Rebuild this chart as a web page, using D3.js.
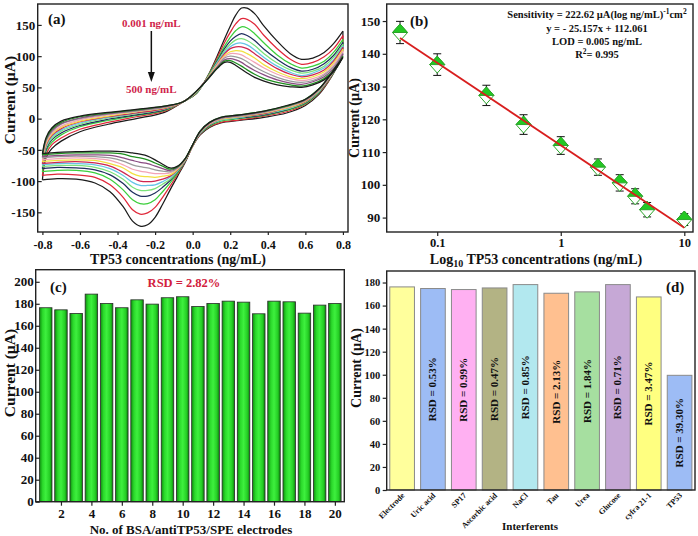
<!DOCTYPE html>
<html><head><meta charset="utf-8">
<script src="https://cdn.jsdelivr.net/npm/d3@7"></script>
<style>
html,body{margin:0;padding:0;background:#fff;}
svg{display:block;}
text{font-family:"Liberation Serif","Times New Roman",serif;font-weight:bold;fill:#111;}
</style></head><body>
<svg id="fig" width="698" height="536"></svg>
<script>
// ================= DATA =================
// (a) cyclic voltammograms
const cvPotFwd = [-0.8,-0.78,-0.75,-0.7,-0.6,-0.45,-0.3,-0.15,-0.05,0.02,0.08,0.13,0.17,0.2,0.23,0.26,0.29,0.33,0.38,0.45,0.52,0.58,0.64,0.7,0.75,0.8];
const cvPotRev = [0.8,0.79,0.76,0.72,0.67,0.6,0.5,0.38,0.25,0.15,0.09,0.04,0.0,-0.04,-0.08,-0.12,-0.16,-0.2,-0.24,-0.28,-0.32,-0.37,-0.44,-0.52,-0.62,-0.72,-0.8];
const cvColors = ["#1b1b1b","#e0283a","#3ccf3c","#1f2e5e","#7ae27a","#66c4e6","#cf2650","#f2e040","#f2a4b6","#9a9a9a","#8a4c82","#1f8f1f","#1b1b1b"];
const cvFwd = [
 [-98,-62,-48,-36,-21,-9,0,10,27,40,68,100,128,148,166,177,177,168,148,124,104,95,97,106,120,140],
 [-91,-57,-42,-31,-17,-6,3,12,27,41,67,97,122,138,152,160,159,151,133,112,95,87,90,99,112,133],
 [-85,-52,-38,-26,-13,-3,5,13,27,41,67,94,116,130,141,147,145,136,121,102,88,81,84,92,106,127],
 [-80,-49,-34,-23,-11,-1,6,14,27,42,66,92,112,124,132,136,133,125,111,95,82,76,79,88,101,122],
 [-77,-46,-32,-20,-9,1,8,15,27,42,66,90,109,119,126,128,125,117,104,89,78,73,76,84,98,119],
 [-74,-44,-29,-18,-7,2,9,16,27,42,65,89,106,115,120,121,118,110,98,84,74,69,73,81,94,116],
 [-72,-42,-27,-16,-5,3,9,16,27,43,65,87,104,112,115,115,112,104,93,80,71,67,70,78,92,114],
 [-69,-40,-25,-14,-4,4,11,17,27,43,65,86,101,107,109,108,104,97,86,75,67,64,67,75,89,111],
 [-66,-38,-23,-12,-2,6,12,18,27,43,64,85,99,104,104,102,97,90,81,71,64,61,64,72,86,108],
 [-63,-35,-21,-9,0,7,12,18,27,43,64,83,97,100,99,96,91,83,75,66,60,58,61,70,83,105],
 [-61,-34,-19,-8,1,8,13,19,27,44,64,82,94,96,94,90,84,77,70,62,57,55,59,67,80,103],
 [-58,-32,-17,-6,3,9,14,20,27,44,63,81,92,93,89,84,78,71,64,58,54,52,56,64,77,100],
 [-56,-30,-15,-4,4,10,15,20,27,44,63,80,90,90,85,79,73,66,60,54,51,50,54,62,75,98]
];
const cvRev = [
 [140,96,78,58,38,21,9,2,-3,-7,-14,-26,-44,-70,-92,-114,-137,-158,-170,-172,-164,-141,-117,-103,-97,-96,-98],
 [133,96,79,59,40,23,11,4,-2,-6,-13,-25,-44,-69,-89,-108,-126,-142,-151,-153,-146,-126,-106,-94,-90,-89,-91],
 [127,95,79,60,41,24,13,5,0,-4,-12,-24,-43,-68,-87,-103,-117,-130,-136,-136,-130,-114,-97,-87,-83,-83,-85],
 [122,95,80,61,42,25,14,6,1,-3,-11,-24,-43,-68,-85,-99,-110,-119,-124,-124,-118,-104,-90,-82,-79,-78,-80],
 [119,95,80,62,43,26,15,7,2,-3,-10,-23,-43,-67,-84,-97,-105,-112,-115,-115,-110,-97,-85,-78,-75,-75,-77],
 [116,95,80,62,43,27,16,8,2,-2,-9,-23,-43,-67,-83,-94,-101,-106,-107,-107,-102,-91,-80,-74,-72,-72,-74],
 [114,95,81,62,44,27,17,8,3,-1,-9,-22,-43,-66,-82,-92,-97,-100,-101,-100,-95,-86,-76,-71,-69,-70,-72],
 [111,95,81,63,44,28,17,9,3,-1,-8,-22,-43,-66,-81,-90,-92,-94,-93,-92,-88,-79,-72,-67,-66,-67,-69],
 [108,94,81,63,45,29,18,10,4,0,-8,-21,-42,-65,-80,-87,-88,-88,-86,-84,-81,-74,-67,-64,-63,-64,-66],
 [105,94,81,64,45,29,19,10,4,0,-7,-21,-42,-65,-79,-85,-84,-82,-79,-77,-74,-68,-63,-61,-60,-61,-63],
 [103,94,82,64,46,30,20,11,5,1,-7,-21,-42,-65,-78,-83,-80,-76,-72,-70,-67,-63,-59,-58,-58,-59,-61],
 [100,94,82,65,47,31,20,12,6,2,-6,-20,-42,-64,-77,-81,-76,-71,-66,-63,-61,-57,-55,-55,-55,-56,-58],
 [98,94,82,65,47,31,21,12,6,2,-6,-20,-42,-64,-76,-79,-73,-66,-60,-57,-55,-53,-52,-52,-53,-54,-56]
];
const aXTicks = [-0.8,-0.6,-0.4,-0.2,0.0,0.2,0.4,0.6,0.8];
const aXTickLabels = ["-0.8","-0.6","-0.4","-0.2","0.0","0.2","0.4","0.6","0.8"];
const aYTicks = [-150,-100,-50,0,50,100,150];
const aYTickLabels = ["-150","-100","-50","0","50","100","150"];

// (b) calibration
const bConc = [0.05,0.1,0.25,0.5,1,2,3,4,5,10];
const bCurrent = [146.5,136.7,127.3,118.4,112.0,105.4,100.6,96.5,92.4,89.4];
const bError = [3.4,3.3,3.1,3.0,2.7,2.5,2.5,2.3,2.2,1.8];
const bFitConc = [0.05,10];
const bFitCurrent = [144.8,86.9];
const bXTicks = [0.1,1,10];
const bXTickLabels = ["0.1","1","10"];
const bYTicks = [90,100,110,120,130,140,150];

// (c) reproducibility
const cElectrodes = [1,2,3,4,5,6,7,8,9,10,11,12,13,14,15,16,17,18,19,20];
const cCurrent = [176.4,174.5,171.2,188.8,180.3,176.4,183.6,179.7,185.5,186.4,177.6,180.3,182.4,181.5,170.9,182.4,181.8,171.5,178.8,180.3];
const cXTicks = [2,4,6,8,10,12,14,16,18,20];
const cYTicks = [0,20,40,60,80,100,120,140,160,180,200];

// (d) interferents
const dNames = ["Electrode","Uric acid","SP17","Ascorbic acid","NaCl","Tau","Urea","Glucose","cyfra 21-1","TP53"];
const dCurrent = [176.2,174.8,173.9,175.3,178.2,170.7,171.9,178.2,167.5,99.5];
const dRSD = ["","RSD = 0.53%","RSD = 0.99%","RSD = 0.47%","RSD = 0.85%","RSD = 2.13%","RSD = 1.84%","RSD = 0.71%","RSD = 3.47%","RSD = 39.30%"];
const dColors = ["#ffff9c","#9dbcf5","#ffb0f2","#b3b384","#b2e8ef","#ffc090","#a6dfa0","#c6a8d6","#ffff80","#9dbcf5"];
const dYTicks = [0,20,40,60,80,100,120,140,160,180];

// ================= DRAW =================
const svg = d3.select("#fig");
svg.append("rect").attr("width",698).attr("height",536).attr("fill","#fff");
const defs = svg.append("defs");
const SERIF = '"Liberation Serif","Times New Roman",serif';

function styleAxis(g, fs){
  g.attr("font-size", fs).attr("font-family", SERIF);
  g.select(".domain").remove();
  g.selectAll(".tick line").attr("stroke","#222").attr("stroke-width",1.2);
  g.selectAll(".tick text").attr("fill","#111").style("font-weight","bold");
}
function frame(g, x0, x1, y0, y1){
  g.append("rect").attr("x",x0).attr("y",y0).attr("width",x1-x0).attr("height",y1-y0)
   .attr("fill","none").attr("stroke","#222").attr("stroke-width",1.4);
}
function label(g, x, y, txt, fs, opts={}){
  const t = g.append("text").attr("x",x).attr("y",y).attr("font-size",fs)
    .attr("text-anchor",opts.anchor||"middle").text(txt);
  if(opts.fill) t.style("fill",opts.fill);
  if(opts.rotate) t.attr("transform",`rotate(${opts.rotate},${x},${y})`);
  return t;
}

// ---------- Panel (a) ----------
{
  const L=37.7,R=348,T=4,B=232;
  const x = d3.scaleLinear().domain([-0.825,0.827]).range([L,R]);
  const y = d3.scaleLinear().domain([-181.5,183.5]).range([B,T]);
  const g = svg.append("g");
  defs.append("clipPath").attr("id","clipA").append("rect").attr("x",L).attr("y",T).attr("width",R-L).attr("height",B-T);
  const line = d3.line().x(d=>x(d[0])).y(d=>y(d[1])).curve(d3.curveCatmullRom.alpha(0.5));
  const cg = g.append("g").attr("clip-path","url(#clipA)");
  cvFwd.forEach((f,k)=>{
    const fp = cvPotFwd.map((e,i)=>[e,f[i]]);
    const rp = cvPotRev.map((e,i)=>[e,cvRev[k][i]]);
    cg.append("path").attr("d",line(fp)).attr("fill","none").attr("stroke",cvColors[k]).attr("stroke-width",1.25);
    cg.append("path").attr("d",line(rp)).attr("fill","none").attr("stroke",cvColors[k]).attr("stroke-width",1.25);
  });
  frame(g,L,R,T,B);
  const xa = g.append("g").attr("transform",`translate(0,${B})`)
    .call(d3.axisBottom(x).tickValues(aXTicks).tickSize(3).tickPadding(5).tickFormat((d,i)=>aXTickLabels[i]));
  styleAxis(xa,12);
  const ya = g.append("g").attr("transform",`translate(${L},0)`)
    .call(d3.axisLeft(y).tickValues(aYTicks).tickSizeInner(-4).tickSizeOuter(0).tickPadding(2.5).tickFormat((d,i)=>aYTickLabels[i]));
  styleAxis(ya,13);
  label(g,178,264,"TP53 concentrations (ng/mL)",14);
  label(g,15,100,"Current (µA)",15.5,{rotate:-90});
  label(g,48,24,"(a)",15,{anchor:"start"});
  label(g,x(-0.22),27,"0.001 ng/mL",11,{fill:"#cf1f4b"});
  label(g,x(-0.22),93,"500 ng/mL",11,{fill:"#cf1f4b"});
  g.append("line").attr("x1",x(-0.22)).attr("x2",x(-0.22)).attr("y1",31).attr("y2",74).attr("stroke","#111").attr("stroke-width",1.5);
  g.append("path").attr("d",`M${x(-0.22)-3.5},72 L${x(-0.22)+3.5},72 L${x(-0.22)},82 Z`).attr("fill","#111");
}

// ---------- Panel (b) ----------
{
  const L=386.7,R=693,T=4,B=232;
  const x = d3.scaleLog().domain([0.039,11.76]).range([L,R]);
  const y = d3.scaleLinear().domain([85.6,155.2]).range([B,T]);
  const g = svg.append("g");
  frame(g,L,R,T,B);
  const xa = g.append("g").attr("transform",`translate(0,${B})`)
    .call(d3.axisBottom(x).tickValues(bXTicks).tickSize(4).tickPadding(2).tickFormat((d,i)=>bXTickLabels[i]));
  styleAxis(xa,12.5);
  const ya = g.append("g").attr("transform",`translate(${L},0)`)
    .call(d3.axisLeft(y).tickValues(bYTicks).tickSize(4).tickPadding(2.5));
  styleAxis(ya,13);
  // error bars
  bConc.forEach((c,i)=>{
    const cx = x(c), y0=y(bCurrent[i]-bError[i]), y1=y(bCurrent[i]+bError[i]);
    g.append("line").attr("x1",cx).attr("x2",cx).attr("y1",y0).attr("y2",y1).attr("stroke","#111").attr("stroke-width",1);
    [y0,y1].forEach(yy=>g.append("line").attr("x1",cx-4).attr("x2",cx+4).attr("y1",yy).attr("y2",yy).attr("stroke","#111").attr("stroke-width",1));
  });
  // markers
  bConc.forEach((c,i)=>{
    const cx = x(c), cy = y(bCurrent[i]), w=7.5, h=8.5;
    g.append("path").attr("d",`M${cx},${cy-h} L${cx+w},${cy} L${cx},${cy+h} L${cx-w},${cy} Z`)
      .attr("fill","#fff").attr("stroke","#2aa52a").attr("stroke-width",1);
    g.append("path").attr("d",`M${cx-w},${cy} L${cx},${cy-h} L${cx+w},${cy} Z`)
      .attr("fill","#22c822").attr("stroke","#2aa52a").attr("stroke-width",1);
  });
  // fit line
  const fl = d3.line().x(d=>x(d[0])).y(d=>y(d[1]));
  g.append("path").attr("d",fl(bFitConc.map((c,i)=>[c,bFitCurrent[i]]))).attr("stroke","#d81e1e").attr("stroke-width",1.8).attr("fill","none");
  label(g,410,26,"(b)",15,{anchor:"start"});
  // legend text
  const cx=597;
  const t1 = g.append("text").attr("x",cx).attr("y",18).attr("font-size",10.5).attr("text-anchor","middle");
  t1.append("tspan").text("Sensitivity = 222.62 µA(log ng/mL)");
  t1.append("tspan").attr("dy",-4).attr("font-size",7.5).text("-1");
  t1.append("tspan").attr("dy",4).text("cm");
  t1.append("tspan").attr("dy",-4).attr("font-size",7.5).text("2");
  label(g,cx,31.5,"y = - 25.157x + 112.061",10.5);
  label(g,cx,45,"LOD = 0.005 ng/mL",10.5);
  const t4 = g.append("text").attr("x",cx).attr("y",58.3).attr("font-size",10.5).attr("text-anchor","middle");
  t4.append("tspan").text("R");
  t4.append("tspan").attr("dy",-4).attr("font-size",7.5).text("2");
  t4.append("tspan").attr("dy",4).text("= 0.995");
  // axis titles
  const tx = g.append("text").attr("x",536).attr("y",263.5).attr("font-size",14).attr("text-anchor","middle");
  tx.append("tspan").text("Log");
  tx.append("tspan").attr("dy",3.5).attr("font-size",10).text("10");
  tx.append("tspan").attr("dy",-3.5).text(" TP53 concentrations (ng/mL)");
  label(g,359,118,"Current (µA)",14,{rotate:-90});
}

// ---------- Panel (c) ----------
{
  const L=35.7,R=344.3,T=269.7,B=501.7;
  const x = d3.scaleLinear().domain([0.34,20.62]).range([L,R]);
  const y = d3.scaleLinear().domain([0,211]).range([B,T]);
  const g = svg.append("g");
  const gr = defs.append("linearGradient").attr("id","gGreen").attr("x1",0).attr("x2",1).attr("y1",0).attr("y2",0);
  [[0,"#0f8d0f"],[0.25,"#2bd92b"],[0.5,"#3ef03e"],[0.8,"#25cf25"],[1,"#0e800e"]].forEach(s=>gr.append("stop").attr("offset",s[0]).attr("stop-color",s[1]));
  const bw = (x(2)-x(1))*0.82;
  g.selectAll("rect.bar").data(cElectrodes).enter().append("rect")
    .attr("x",d=>x(d)-bw/2).attr("width",bw)
    .attr("y",(d,i)=>y(cCurrent[i])).attr("height",(d,i)=>y(0)-y(cCurrent[i]))
    .attr("fill","url(#gGreen)").attr("stroke","#2a2a2a").attr("stroke-width",0.8);
  frame(g,L,R,T,B);
  const xa = g.append("g").attr("transform",`translate(0,${B})`)
    .call(d3.axisBottom(x).tickValues(cXTicks).tickSize(4).tickPadding(3.5));
  styleAxis(xa,13);
  const ya = g.append("g").attr("transform",`translate(${L},0)`)
    .call(d3.axisLeft(y).tickValues(cYTicks).tickSizeInner(-4).tickSizeOuter(0).tickPadding(2));
  styleAxis(ya,13);
  label(g,191,533.5,"No. of BSA/antiTP53/SPE electrodes",13);
  label(g,14.5,373,"Current (µA)",15.5,{rotate:-90});
  label(g,50,292,"(c)",15,{anchor:"start"});
  label(g,184,287,"RSD = 2.82%",12.5,{fill:"#d2203c"});
}

// ---------- Panel (d) ----------
{
  const L=386.7,R=695,T=271,B=490;
  const x = d3.scaleBand().domain(dNames).range([L,R]).paddingInner(0.2).paddingOuter(0.1);
  const y = d3.scaleLinear().domain([0,190]).range([B,T]);
  const g = svg.append("g");
  g.selectAll("rect.bar").data(dNames).enter().append("rect")
    .attr("x",d=>x(d)).attr("width",x.bandwidth())
    .attr("y",(d,i)=>y(dCurrent[i])).attr("height",(d,i)=>y(0)-y(dCurrent[i]))
    .attr("fill",(d,i)=>dColors[i]).attr("stroke","#8a8a8a").attr("stroke-width",1);
  dNames.forEach((n,i)=>{
    if(!dRSD[i]) return;
    const cx = x(n)+x.bandwidth()/2+3.5;
    const cy = y(Math.min(93,dCurrent[i]/2));
    label(g,cx,cy,dRSD[i],11,{rotate:-90});
  });
  frame(g,L,R,T,B);
  const ya = g.append("g").attr("transform",`translate(${L},0)`)
    .call(d3.axisLeft(y).tickValues(dYTicks).tickSize(4).tickPadding(2.5));
  styleAxis(ya,10.5);
  dNames.forEach(n=>{
    const cx = x(n)+x.bandwidth()/2+3;
    label(g,cx,496,n,8,{anchor:"end",rotate:-45});
  });
  label(g,530,530,"Interferents",11);
  label(g,361,368,"Current (µA)",14,{rotate:-90});
  label(g,666,292,"(d)",15,{anchor:"start"});
}
</script>
</body></html>
